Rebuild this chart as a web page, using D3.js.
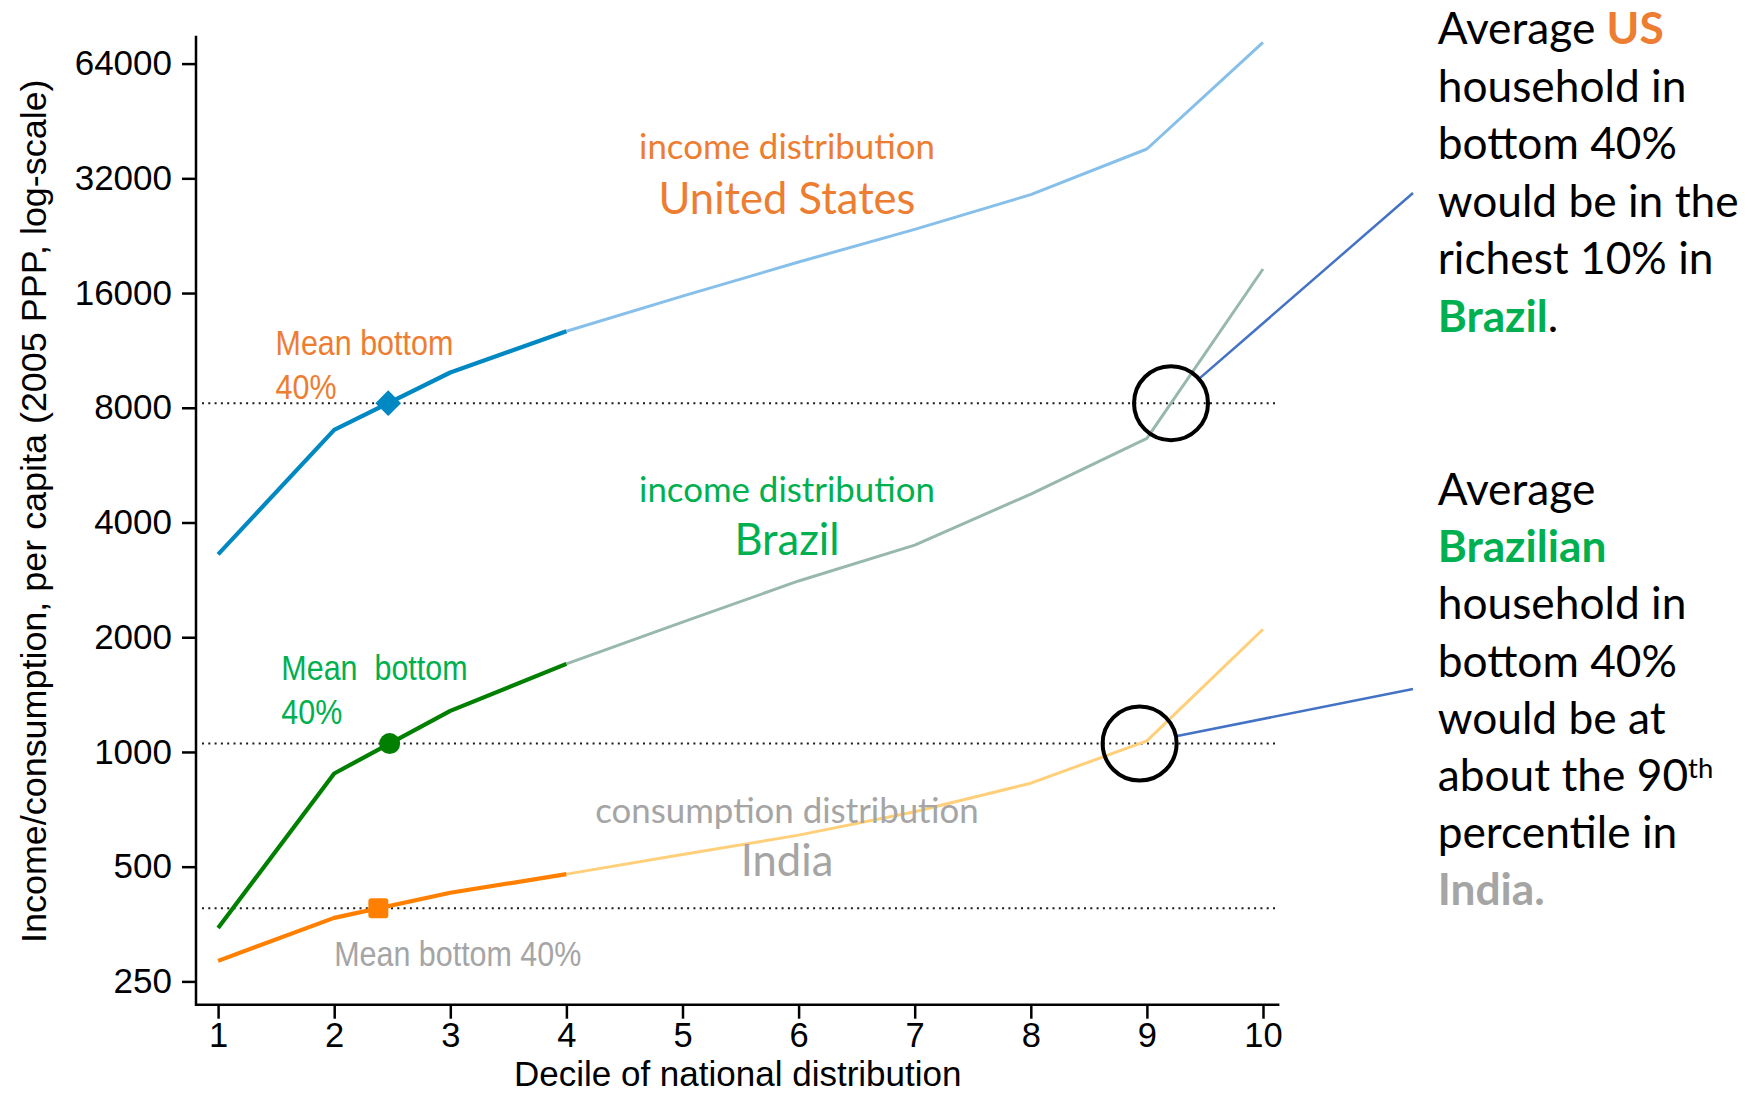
<!DOCTYPE html>
<html>
<head>
<meta charset="utf-8">
<script src="https://cdn.jsdelivr.net/npm/d3@7"></script>
<style>
  html, body { margin: 0; padding: 0; background: #ffffff; }
  svg { display: block; }
</style>
</head>
<body>
<svg id="chart" width="1751" height="1094"></svg>
<script>
// Mean income / consumption per capita by decile of the national distribution (2005 PPP)
const deciles = [1, 2, 3, 4, 5, 6, 7, 8, 9, 10];
const usIncome = [3300, 7000, 9900, 12700, 15700, 19300, 23500, 29000, 38200, 72800];
const brazilIncome = [345, 878, 1282, 1703, 2190, 2810, 3490, 4750, 6650, 18500];
const indiaConsumption = [283, 367, 427, 478, 538, 605, 697, 828, 1069, 2099];
const yTickValues = [250, 500, 1000, 2000, 4000, 8000, 16000, 32000, 64000];
const xTickValues = [1, 2, 3, 4, 5, 6, 7, 8, 9, 10];

const svg = d3.select("#chart");

// plotting frame (L-shaped box) and data area
const frame = { left: 196, right: 1279.4, top: 35.7, bottom: 1004.7 };
const x = d3.scaleLinear().domain([1, 10]).range([218.1, 1263]);
const y = d3.scaleLog().base(2).domain([250, 64000]).range([981.4, 63.6]);

const AXIS_FONT = "'Liberation Sans', Arial, Helvetica, sans-serif";
const CALLOUT_FONT = "Lato, 'Open Sans', sans-serif";

const ORANGE = "#ED7D31", GREEN = "#00B050", GREY = "#A5A5A5", LINK = "#4472C4";

const series = [
  { key: "us", values: usIncome, dark: "#0088C2", light: "#85BFEA", marker: "diamond" },
  { key: "br", values: brazilIncome, dark: "#007F00", light: "#98B8AC", marker: "circle" },
  { key: "in", values: indiaConsumption, dark: "#FF8000", light: "#FFCF7A", marker: "square" }
];

// decile position where a curve reaches a given level (log interpolation)
function crossing(values, level) {
  for (let i = 0; i < values.length - 1; i++) {
    const a = values[i], b = values[i + 1];
    if (a <= level && level <= b) {
      const t = Math.log(level / a) / Math.log(b / a);
      return deciles[i] + t * (deciles[i + 1] - deciles[i]);
    }
  }
  return null;
}
// mean of the bottom four deciles
series.forEach(s => {
  s.mean = d3.mean(s.values.slice(0, 4));
  s.meanDecile = crossing(s.values, s.mean);
});

// font size that makes a string span a given width
function fitSize(str, family, weight, width) {
  const t = svg.append("text").attr("font-family", family).attr("font-weight", weight)
    .attr("font-size", 100).text(str);
  const len = t.node().getComputedTextLength();
  t.remove();
  return 100 * width / len;
}

// ---- axes ----
const yAxis = svg.append("g")
  .attr("transform", `translate(${frame.left},0)`)
  .call(d3.axisLeft(y).tickValues(yTickValues).tickSize(14).tickPadding(10).tickFormat(d3.format("d")));
const xAxis = svg.append("g")
  .attr("transform", `translate(0,${frame.bottom})`)
  .call(d3.axisBottom(x).tickValues(xTickValues).tickSize(14).tickPadding(3.5).tickFormat(d3.format("d")));
[yAxis, xAxis].forEach(g => {
  g.select(".domain").remove();
  g.selectAll(".tick line").attr("stroke", "#000").attr("stroke-width", 2.5);
  g.selectAll(".tick text").attr("fill", "#000").attr("font-family", AXIS_FONT).attr("font-size", 35);
});
xAxis.selectAll(".tick text").attr("font-size", 34.5);

svg.append("path")
  .attr("d", `M${frame.left},${frame.top}V${frame.bottom}H${frame.right}`)
  .attr("fill", "none").attr("stroke", "#000").attr("stroke-width", 2.5);

const yTitle = "Income/consumption, per capita (2005 PPP, log-scale)";
svg.append("text")
  .attr("transform", `translate(46,${(frame.top + frame.bottom) / 2 - 9}) rotate(-90)`)
  .attr("text-anchor", "middle")
  .attr("font-family", AXIS_FONT).attr("font-size", fitSize(yTitle, AXIS_FONT, 400, 864)).attr("fill", "#000")
  .text(yTitle);

svg.append("text")
  .attr("x", (frame.left + frame.right) / 2).attr("y", 1086)
  .attr("text-anchor", "middle")
  .attr("font-family", AXIS_FONT).attr("font-size", 35).attr("fill", "#000")
  .text("Decile of national distribution");

// ---- mean bottom 40% reference lines ----
svg.append("g").selectAll("line").data(series).join("line")
  .attr("x1", frame.left + 6).attr("x2", frame.right - 2)
  .attr("y1", d => y(d.mean)).attr("y2", d => y(d.mean))
  .attr("stroke", "#1a1a1a").attr("stroke-width", 2).attr("stroke-dasharray", "2 4.3");

// ---- distribution curves: deciles 4-10 light, bottom 40% dark ----
const lineFrom = (vals, start) => d3.line().x((v, i) => x(deciles[i + start])).y(v => y(v))(vals);

svg.append("g").selectAll("path").data(series).join("path")
  .attr("d", s => lineFrom(s.values.slice(3), 3))
  .attr("fill", "none").attr("stroke", s => s.light).attr("stroke-width", 3)
  .attr("stroke-linejoin", "round");

svg.append("g").selectAll("path").data(series).join("path")
  .attr("d", s => lineFrom(s.values.slice(0, 4), 0))
  .attr("fill", "none").attr("stroke", s => s.dark).attr("stroke-width", 4.2)
  .attr("stroke-linejoin", "round");

// ---- markers at the bottom-40% mean ----
const markers = svg.append("g");
series.forEach(s => {
  const mx = x(s.meanDecile), my = y(s.mean);
  if (s.marker === "diamond") {
    markers.append("path")
      .attr("d", d3.symbol(d3.symbolSquare, 330)())
      .attr("transform", `translate(${mx},${my}) rotate(45)`)
      .attr("fill", s.dark);
  } else if (s.marker === "circle") {
    markers.append("circle").attr("cx", mx).attr("cy", my).attr("r", 10.5).attr("fill", s.dark);
  } else {
    markers.append("rect").attr("x", mx - 10).attr("y", my - 10).attr("width", 20).attr("height", 20)
      .attr("rx", 3).attr("fill", s.dark);
  }
});

// ---- highlighted crossings: US mean on Brazil curve, Brazil mean on India curve ----
const us = series[0], br = series[1];
const rings = [
  { cx: x(crossing(brazilIncome, us.mean)), cy: y(us.mean), end: [1413, 193] },
  { cx: x(crossing(indiaConsumption, br.mean)), cy: y(br.mean), end: [1413, 689] }
];
const R = 37;
rings.forEach(r => {
  const dx = r.end[0] - r.cx, dy = r.end[1] - r.cy, n = Math.hypot(dx, dy);
  svg.append("line")
    .attr("x1", r.cx + R * dx / n).attr("y1", r.cy + R * dy / n)
    .attr("x2", r.end[0]).attr("y2", r.end[1])
    .attr("stroke", LINK).attr("stroke-width", 2.5);
  svg.append("circle").attr("cx", r.cx).attr("cy", r.cy).attr("r", R)
    .attr("fill", "none").attr("stroke", "#000").attr("stroke-width", 4);
});

// ---- "Mean bottom 40%" labels (condensed) ----
function condensed(px, py, lines, color) {
  const g = svg.append("g").attr("transform", `translate(${px},${py}) scale(0.87,1)`);
  lines.forEach((t, i) => {
    g.append("text").attr("x", 0).attr("y", i * 44)
      .attr("font-family", AXIS_FONT).attr("font-size", 35).attr("fill", color)
      .attr("xml:space", "preserve").style("white-space", "pre")
      .text(t);
  });
}
condensed(x(1.495), y(11000), ["Mean bottom", "40%"], ORANGE);
condensed(x(1.545), y(1540), ["Mean  bottom", "40%"], GREEN);
condensed(x(2.0), y(274), ["Mean bottom 40%"], GREY);

// ---- distribution name labels ----
const smallSize = fitSize("income distribution", CALLOUT_FONT, 400, 296);
const bigSize = fitSize("United States", CALLOUT_FONT, 400, 257);
const labelX = x(5.9);
[
  { t: "income distribution", v: 36000, c: ORANGE, s: smallSize },
  { t: "United States", v: 25800, c: ORANGE, s: bigSize },
  { t: "income distribution", v: 4530, c: GREEN, s: smallSize },
  { t: "Brazil", v: 3290, c: GREEN, s: bigSize },
  { t: "consumption distribution", v: 651, c: GREY, s: smallSize },
  { t: "India", v: 473, c: GREY, s: bigSize }
].forEach(d => {
  svg.append("text").attr("x", labelX).attr("y", y(d.v)).attr("text-anchor", "middle")
    .attr("font-family", CALLOUT_FONT).attr("font-size", d.s).attr("fill", d.c).text(d.t);
});

// ---- side call-outs ----
const calloutSize = fitSize("would be in the", CALLOUT_FONT, 400, 301);
const callouts = [
  { y0: 44, lh: 57.5, lines: [
    [["Average "], ["US", ORANGE, 700]],
    [["household in"]],
    [["bottom 40%"]],
    [["would be in the"]],
    [["richest 10% in"]],
    [["Brazil", GREEN, 700], ["."]]
  ]},
  { y0: 505, lh: 57.2, lines: [
    [["Average"]],
    [["Brazilian", GREEN, 700]],
    [["household in"]],
    [["bottom 40%"]],
    [["would be at"]],
    [["about the 90"], ["th", null, 400, "sup"]],
    [["percentile in"]],
    [["India.", GREY, 700]]
  ]}
];
callouts.forEach(block => {
  block.lines.forEach((runs, i) => {
    const t = svg.append("text").attr("x", 1437.7).attr("y", block.y0 + i * block.lh)
      .attr("font-family", CALLOUT_FONT).attr("font-size", calloutSize).attr("fill", "#000")
      .attr("xml:space", "preserve").style("white-space", "pre");
    runs.forEach(([txt, color, weight, kind]) => {
      const sp = t.append("tspan").text(txt).attr("font-weight", weight || 400);
      if (color) sp.attr("fill", color);
      if (kind === "sup") sp.attr("font-size", calloutSize * 0.62).attr("dy", -calloutSize * 0.3);
    });
  });
});
</script>
</body>
</html>
